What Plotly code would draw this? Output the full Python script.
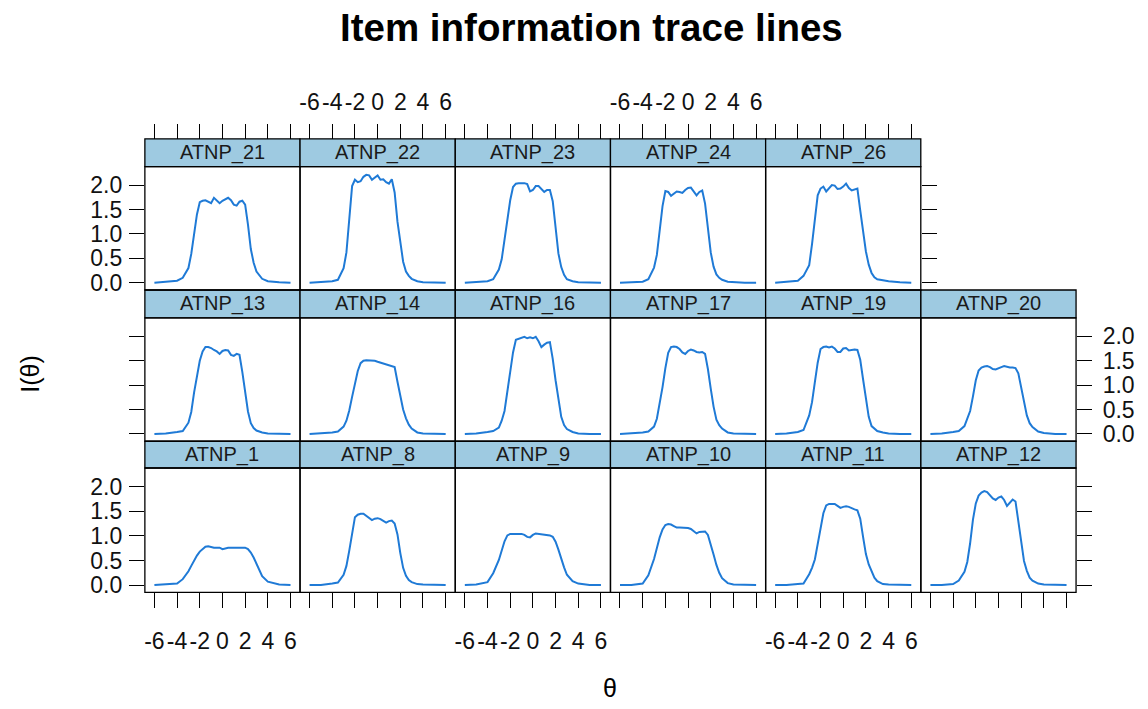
import plotly.graph_objects as go

# ---------------- data ----------------
theta = [-6, -5, -4, -3.5, -3, -2.75, -2.5, -2.25, -2, -1.75, -1.5, -1.25, -1, -0.75, -0.5, -0.25,
         0, 0.25, 0.5, 0.75, 1, 1.25, 1.5, 1.75, 2, 2.25, 2.5, 2.75, 3, 3.5, 4, 5, 6]

atnp_1 = [0.00, 0.01, 0.03, 0.12, 0.28, 0.39, 0.50, 0.60, 0.68, 0.74, 0.78, 0.79, 0.77, 0.76, 0.76, 0.76,
          0.73, 0.75, 0.76, 0.76, 0.76, 0.76, 0.76, 0.76, 0.76, 0.73, 0.66, 0.56, 0.44, 0.18, 0.07, 0.01, 0.00]
atnp_8 = [0.00, 0.00, 0.03, 0.05, 0.21, 0.39, 0.70, 1.07, 1.38, 1.43, 1.45, 1.45, 1.41, 1.36, 1.32, 1.35,
          1.36, 1.34, 1.30, 1.27, 1.30, 1.31, 1.25, 1.03, 0.65, 0.35, 0.19, 0.10, 0.06, 0.02, 0.01, 0.00, 0.00]
atnp_9 = [0.00, 0.01, 0.06, 0.24, 0.51, 0.70, 0.89, 1.01, 1.04, 1.04, 1.04, 1.04, 1.04, 1.02, 0.98, 0.97,
          1.02, 1.05, 1.04, 1.03, 1.02, 1.01, 1.01, 0.98, 0.88, 0.72, 0.53, 0.36, 0.21, 0.08, 0.03, 0.00, 0.00]
atnp_10 = [0.00, 0.00, 0.03, 0.20, 0.53, 0.75, 0.97, 1.13, 1.22, 1.24, 1.23, 1.20, 1.17, 1.17, 1.17, 1.16,
           1.16, 1.14, 1.10, 1.05, 1.08, 1.09, 1.09, 1.02, 0.84, 0.62, 0.41, 0.25, 0.14, 0.04, 0.01, 0.00, 0.00]
atnp_11 = [0.00, 0.00, 0.02, 0.03, 0.22, 0.35, 0.52, 0.84, 1.19, 1.46, 1.62, 1.65, 1.65, 1.65, 1.61, 1.57,
           1.59, 1.60, 1.59, 1.56, 1.54, 1.52, 1.35, 0.98, 0.63, 0.42, 0.27, 0.15, 0.08, 0.02, 0.01, 0.00, 0.00]
atnp_12 = [0.00, 0.00, 0.02, 0.09, 0.27, 0.47, 0.85, 1.33, 1.66, 1.82, 1.88, 1.91, 1.89, 1.83, 1.76, 1.73,
           1.78, 1.80, 1.73, 1.61, 1.67, 1.74, 1.70, 1.30, 0.87, 0.49, 0.29, 0.15, 0.09, 0.03, 0.01, 0.00, 0.00]
atnp_13 = [0.00, 0.01, 0.04, 0.06, 0.23, 0.45, 0.85, 1.20, 1.50, 1.69, 1.78, 1.78, 1.76, 1.72, 1.69, 1.64,
           1.70, 1.72, 1.71, 1.62, 1.60, 1.64, 1.62, 1.27, 0.83, 0.46, 0.22, 0.12, 0.07, 0.03, 0.01, 0.00, 0.00]
atnp_14 = [0.00, 0.01, 0.03, 0.05, 0.15, 0.27, 0.48, 0.76, 1.06, 1.29, 1.45, 1.50, 1.51, 1.51, 1.51, 1.50,
           1.48, 1.46, 1.44, 1.42, 1.40, 1.39, 1.37, 1.07, 0.75, 0.50, 0.32, 0.19, 0.11, 0.03, 0.01, 0.00, 0.00]
atnp_16 = [0.00, 0.01, 0.04, 0.06, 0.13, 0.27, 0.47, 0.87, 1.27, 1.67, 1.93, 1.95, 1.97, 1.99, 1.96, 1.98,
           1.96, 1.99, 1.90, 1.78, 1.83, 1.87, 1.88, 1.54, 1.10, 0.69, 0.35, 0.18, 0.10, 0.04, 0.01, 0.00, 0.00]
atnp_17 = [0.00, 0.01, 0.03, 0.05, 0.15, 0.31, 0.61, 0.96, 1.35, 1.66, 1.78, 1.79, 1.78, 1.74, 1.67, 1.64,
           1.70, 1.73, 1.71, 1.68, 1.67, 1.68, 1.64, 1.33, 0.93, 0.56, 0.29, 0.18, 0.11, 0.03, 0.01, 0.00, 0.00]
atnp_19 = [0.00, 0.01, 0.04, 0.08, 0.38, 0.65, 1.06, 1.46, 1.74, 1.78, 1.79, 1.77, 1.79, 1.75, 1.68, 1.68,
           1.75, 1.76, 1.71, 1.72, 1.73, 1.72, 1.52, 1.12, 0.70, 0.35, 0.16, 0.10, 0.06, 0.03, 0.01, 0.00, 0.00]
atnp_20 = [0.00, 0.01, 0.04, 0.06, 0.16, 0.30, 0.47, 0.77, 1.10, 1.30, 1.36, 1.38, 1.39, 1.37, 1.33, 1.32,
           1.35, 1.37, 1.39, 1.37, 1.36, 1.36, 1.35, 1.24, 0.96, 0.64, 0.38, 0.22, 0.14, 0.05, 0.02, 0.00, 0.00]
atnp_21 = [0.00, 0.02, 0.04, 0.10, 0.30, 0.59, 1.00, 1.40, 1.65, 1.68, 1.69, 1.66, 1.63, 1.74, 1.69, 1.63,
           1.68, 1.71, 1.74, 1.69, 1.60, 1.58, 1.66, 1.68, 1.60, 1.19, 0.69, 0.41, 0.23, 0.08, 0.03, 0.01, 0.00]
atnp_22 = [0.00, 0.01, 0.03, 0.06, 0.30, 0.62, 1.25, 1.98, 2.11, 2.06, 2.08, 2.17, 2.21, 2.20, 2.11, 2.15,
           2.20, 2.11, 2.12, 2.06, 2.03, 2.12, 1.85, 1.25, 0.80, 0.43, 0.23, 0.14, 0.08, 0.03, 0.01, 0.00, 0.00]
atnp_23 = [0.00, 0.01, 0.03, 0.07, 0.27, 0.48, 0.86, 1.26, 1.69, 1.96, 2.03, 2.04, 2.04, 2.04, 2.02, 1.87,
           1.90, 1.98, 1.98, 1.91, 1.86, 1.90, 1.90, 1.67, 1.10, 0.60, 0.32, 0.16, 0.07, 0.03, 0.01, 0.00, 0.00]
atnp_24 = [0.00, 0.01, 0.02, 0.07, 0.31, 0.57, 1.04, 1.57, 1.88, 1.86, 1.78, 1.83, 1.87, 1.86, 1.84, 1.90,
           1.94, 1.95, 1.87, 1.79, 1.86, 1.89, 1.62, 1.05, 0.62, 0.33, 0.17, 0.10, 0.06, 0.02, 0.01, 0.00, 0.00]
atnp_26 = [0.00, 0.02, 0.04, 0.14, 0.36, 0.79, 1.32, 1.79, 1.93, 1.97, 1.87, 1.93, 2.00, 1.99, 1.92, 1.93,
           1.97, 2.03, 1.94, 1.89, 1.91, 1.93, 1.48, 1.02, 0.64, 0.37, 0.20, 0.11, 0.07, 0.05, 0.03, 0.01, 0.00]

item_values = {
    "ATNP_1": atnp_1, "ATNP_8": atnp_8, "ATNP_9": atnp_9, "ATNP_10": atnp_10,
    "ATNP_11": atnp_11, "ATNP_12": atnp_12, "ATNP_13": atnp_13, "ATNP_14": atnp_14,
    "ATNP_16": atnp_16, "ATNP_17": atnp_17, "ATNP_19": atnp_19, "ATNP_20": atnp_20,
    "ATNP_21": atnp_21, "ATNP_22": atnp_22, "ATNP_23": atnp_23, "ATNP_24": atnp_24,
    "ATNP_26": atnp_26,
}

# panel arrangement (top row first, as displayed)
rows_items = [
    ["ATNP_21", "ATNP_22", "ATNP_23", "ATNP_24", "ATNP_26", None],
    ["ATNP_13", "ATNP_14", "ATNP_16", "ATNP_17", "ATNP_19", "ATNP_20"],
    ["ATNP_1", "ATNP_8", "ATNP_9", "ATNP_10", "ATNP_11", "ATNP_12"],
]

x_ticks = [-6, -4, -2, 0, 2, 4, 6]
x_ticktext = ["-6", "-4", "-2", "0", "2", "4", "6"]
y_ticks = [0, 0.5, 1.0, 1.5, 2.0]
y_ticktext = ["0.0", "0.5", "1.0", "1.5", "2.0"]

# ---------------- layout geometry (pixels) ----------------
W, H = 1148, 709
col_left = [144, 299.3, 454.7, 610, 765.3, 920.7]
col_w = 155.3
strip_top = [140, 292.5, 445]
panel_top = [168, 320.5, 472]
panel_bot = [292.5, 445, 597.5]

LINE_COL = "#1f7ad6"
STRIP_COL = "#9ecae1"
FONT = "Liberation Sans, Arial, sans-serif"
TXT = "#111111"
TICK_FS = 23

fig = go.Figure()
layout = dict(
    width=W, height=H, margin=dict(l=0, r=0, t=0, b=0),
    paper_bgcolor="white", plot_bgcolor="white", showlegend=False,
)
shapes = []
annotations = []

k = 0
for r, row in enumerate(rows_items):
    for c, name in enumerate(row):
        if name is None:
            continue
        k += 1
        sfx = "" if k == 1 else str(k)
        xid, yid = f"x{sfx}", f"y{sfx}"
        xa, ya = f"xaxis{sfx}", f"yaxis{sfx}"
        xd = [col_left[c] / W, (col_left[c] + col_w) / W]
        yd = [1 - panel_bot[r] / H, 1 - panel_top[r] / H]

        xcfg = dict(domain=xd, range=[-6.84, 6.84], tickmode="array", tickvals=x_ticks,
                    ticktext=x_ticktext, tickangle=0, showgrid=False,
                    zeroline=False, showline=False, ticks="", showticklabels=False,
                    ticklen=15, tickwidth=1.3, tickcolor="black",
                    tickfont=dict(family=FONT, size=TICK_FS, color=TXT), anchor=yid)
        if r == 0 and c < 5:
            xcfg.update(side="top", anchor="free", position=1 - strip_top[r] / H,
                        ticks="outside", showticklabels=(c in (1, 3)), ticklabelstandoff=5)
        if r == 2:
            xcfg.update(side="bottom", ticks="outside", showticklabels=(c in (0, 2, 4)),
                        ticklabelstandoff=13)

        ycfg = dict(domain=yd, range=[-0.15, 2.38], tickmode="array", tickvals=y_ticks,
                    ticktext=y_ticktext, tickangle=0,
                    showgrid=False, zeroline=False, showline=False, ticks="",
                    showticklabels=False, ticklen=15, tickwidth=1.3, tickcolor="black",
                    tickfont=dict(family=FONT, size=TICK_FS, color=TXT), anchor=xid)
        if c == 0:
            ycfg.update(side="left", ticks="outside", showticklabels=(r in (0, 2)),
                        ticklabelstandoff=2)
        if (r == 0 and c == 4) or (r in (1, 2) and c == 5):
            ycfg.update(side="right", ticks="outside", showticklabels=(r == 1),
                        ticklabelstandoff=6)

        layout[xa] = xcfg
        layout[ya] = ycfg

        fig.add_trace(go.Scatter(
            x=theta, y=item_values[name], mode="lines",
            line=dict(color=LINE_COL, width=2),
            xaxis=xid, yaxis=yid, hoverinfo="skip", showlegend=False,
        ))

        ph = panel_bot[r] - panel_top[r]
        sh = panel_top[r] - strip_top[r]
        shapes.append(dict(type="rect", xref=f"{xid} domain", yref=f"{yid} domain",
                           x0=0, x1=1, y0=1, y1=1 + sh / ph, fillcolor=STRIP_COL,
                           line=dict(color="black", width=1.3), layer="below"))
        shapes.append(dict(type="rect", xref=f"{xid} domain", yref=f"{yid} domain",
                           x0=0, x1=1, y0=0, y1=1, fillcolor="rgba(0,0,0,0)",
                           line=dict(color="black", width=1.3), layer="above"))
        annotations.append(dict(xref=f"{xid} domain", yref=f"{yid} domain", x=0.5,
                                y=1 + (sh / 2) / ph, text=name, showarrow=False,
                                xanchor="center", yanchor="middle",
                                font=dict(family=FONT, size=20, color="#1a1a1a")))

# titles
annotations.append(dict(xref="paper", yref="paper", x=591 / W, y=1 - 28 / H,
                        text="<b>Item information trace lines</b>", showarrow=False,
                        xanchor="center", yanchor="middle",
                        font=dict(family=FONT, size=38.5, color="black")))
annotations.append(dict(xref="paper", yref="paper", x=610 / W, y=1 - 694 / H,
                        text="θ", showarrow=False, xanchor="center", yanchor="middle",
                        font=dict(family=FONT, size=25, color="black")))
annotations.append(dict(xref="paper", yref="paper", x=29 / W, y=1 - 377 / H,
                        text="I(θ)", showarrow=False, xanchor="center", yanchor="middle",
                        textangle=-90, font=dict(family=FONT, size=25, color="black")))

layout["shapes"] = shapes
layout["annotations"] = annotations
fig.update_layout(**layout)
fig.write_html("out.html")
